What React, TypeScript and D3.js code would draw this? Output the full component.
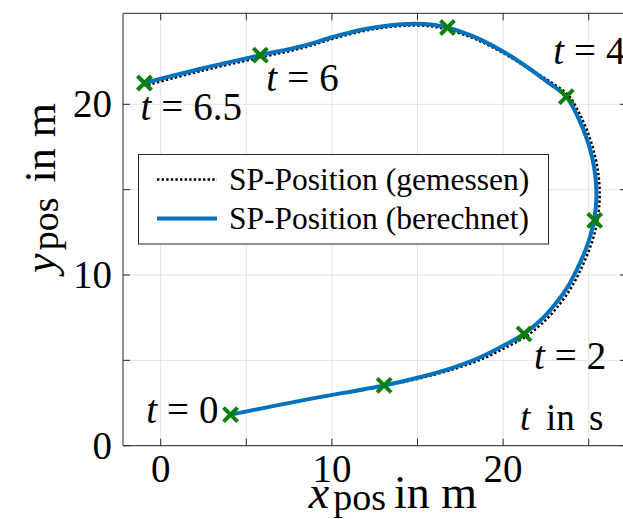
import React from 'react';
import * as d3 from 'd3';

// Computed centre-of-gravity path (x, y in m)
const calcX = [4.08, 8.5, 13.05, 15.0, 17.0, 18.6, 19.9, 21.22, 22.3, 23.13, 23.8, 24.3, 24.75, 25.1, 25.33, 25.45, 25.4, 25.2, 24.85, 24.35, 23.69, 22.6, 21.38, 19.82, 18.26, 16.75, 15.9, 14.8, 13.3, 11.8, 10.1, 8.3, 5.82, 2.4, -0.95];
const calcY = [1.82, 2.7, 3.53, 3.98, 4.55, 5.15, 5.8, 6.55, 7.45, 8.4, 9.35, 10.3, 11.3, 12.3, 13.3, 14.5, 15.7, 16.9, 18.1, 19.3, 20.45, 21.3, 22.2, 23.2, 23.98, 24.5, 24.66, 24.72, 24.62, 24.38, 23.96, 23.42, 22.88, 22.1, 21.25];

// Measured centre-of-gravity path (x, y in m)
const measX = [4.08, 8.5, 13.05, 15.02, 17.04, 18.68, 20.0, 21.35, 22.45, 23.3, 23.97, 24.48, 24.93, 25.29, 25.52, 25.64, 25.59, 25.38, 25.02, 24.5, 23.82, 22.7, 21.45, 19.86, 18.28, 16.75, 15.9, 14.8, 13.3, 11.8, 10.1, 8.3, 5.82, 2.4, -0.95];
const measY = [1.82, 2.69, 3.51, 3.92, 4.46, 5.04, 5.67, 6.41, 7.32, 8.28, 9.24, 10.2, 11.22, 12.24, 13.28, 14.5, 15.72, 16.94, 18.16, 19.38, 20.52, 21.36, 22.12, 23.08, 23.86, 24.38, 24.55, 24.62, 24.52, 24.28, 23.85, 23.3, 22.74, 21.96, 21.08];

// Positions at the sample times
const markT = [0, 1, 2, 3, 4, 5, 6, 6.5];
const markX = [4.08, 13.05, 21.22, 25.35, 23.69, 16.75, 5.82, -0.95];
const markY = [1.82, 3.53, 6.55, 13.2, 20.45, 24.5, 22.88, 21.25];

// Times that get a text label
const labelT = [0, 2, 4, 6, 6.5];

const xMajor = [0, 10, 20];
const xMinor = [5, 15, 25];
const yMajor = [0, 10, 20];
const yMinor = [5, 15];

const legendNames = ['SP-Position (gemessen)', 'SP-Position (berechnet)'];

const W = 623;
const H = 519;
const L = 123;
const R = 627;
const T = 13.3;
const B = 445.7;

const BLUE = '#0072BD';
const GREEN = '#0a800a';
const AX = '#262626';
const GRID = '#e3e3e3';
const SERIF = '"Liberation Serif", "Times New Roman", serif';

// label offsets relative to the marker, in px (dx, dy), and anchor
const labelPlacement: Record<string, [number, number, string]> = {
  '0': [-12, 8, 'end'],
  '2': [10, 35, 'start'],
  '4': [-13, -33, 'start'],
  '6': [6, 36, 'start'],
  '6.5': [-4, 37, 'start'],
};

function TLabel({ x, y, value, anchor }: { x: number; y: number; value: string; anchor: string }) {
  return (
    <text x={x} y={y} fontFamily={SERIF} fontSize={39} fill="#000" textAnchor={anchor}>
      <tspan fontStyle="italic">t</tspan>
      <tspan dx={10}>=</tspan>
      <tspan dx={10}>{value}</tspan>
    </text>
  );
}

export default function App() {
  const x = d3.scaleLinear().domain([(L - 160.7) / 17.12, (R - 160.7) / 17.12]).range([L, R]);
  const y = d3.scaleLinear().domain([0, (B - T) / 17.07]).range([B, T]);

  const line = d3
    .line<[number, number]>()
    .x((d) => x(d[0]))
    .y((d) => y(d[1]))
    .curve(d3.curveCatmullRom.alpha(0.5));

  const calcPts = calcX.map((v, i) => [v, calcY[i]] as [number, number]);
  const measPts = measX.map((v, i) => [v, measY[i]] as [number, number]);

  const xGrid = [...xMajor, ...xMinor];
  const yGrid = [...yMajor, ...yMinor];
  const tick = 7;
  const m = 7;

  return (
    <svg width={W} height={H} style={{ position: 'absolute', left: 0, top: 0, background: '#fff' }}>
      <rect x={0} y={0} width={W} height={H} fill="#fff" />
      <defs>
        <clipPath id="plot">
          <rect x={L} y={T} width={R - L} height={B - T} />
        </clipPath>
      </defs>
      {/* grid */}
      {xGrid.map((v) => (
        <line key={'gx' + v} x1={x(v)} x2={x(v)} y1={T} y2={B} stroke={GRID} strokeWidth={1} />
      ))}
      {yGrid.map((v) => (
        <line key={'gy' + v} x1={L} x2={R} y1={y(v)} y2={y(v)} stroke={GRID} strokeWidth={1} />
      ))}

      {/* paths */}
      <g clipPath="url(#plot)">
        <path d={line(measPts) || ''} fill="none" stroke="#000" strokeWidth={2.4} strokeDasharray="2.4 2.2" />
        <path d={line(calcPts) || ''} fill="none" stroke={BLUE} strokeWidth={4} strokeLinejoin="round" />
        {markT.map((t, i) => {
          const cx = x(markX[i]);
          const cy = y(markY[i]);
          return (
            <g key={'m' + t} stroke={GREEN} strokeWidth={4}>
              <line x1={cx - m} y1={cy - m} x2={cx + m} y2={cy + m} />
              <line x1={cx - m} y1={cy + m} x2={cx + m} y2={cy - m} />
            </g>
          );
        })}
      </g>

      {/* axes box and ticks */}
      <g stroke={AX} strokeWidth={1} fill="none">
        <line x1={L} x2={L} y1={T} y2={B} />
        <line x1={L} x2={R} y1={B} y2={B} />
        <line x1={L} x2={R} y1={T} y2={T} />
        <line x1={R} x2={R} y1={T} y2={B} />
        {xGrid.map((v) => (
          <g key={'tx' + v}>
            <line x1={x(v)} x2={x(v)} y1={B} y2={B - tick} />
            <line x1={x(v)} x2={x(v)} y1={T} y2={T + tick} />
          </g>
        ))}
        {yGrid.map((v) => (
          <g key={'ty' + v}>
            <line x1={L} x2={L + tick} y1={y(v)} y2={y(v)} />
            <line x1={R} x2={R - tick} y1={y(v)} y2={y(v)} />
          </g>
        ))}
      </g>

      {/* tick labels */}
      {xMajor.map((v) => (
        <text key={'lx' + v} x={x(v)} y={481.5} fontFamily={SERIF} fontSize={39} textAnchor="middle" fill="#000">
          {v}
        </text>
      ))}
      {yMajor.map((v) => (
        <text key={'ly' + v} x={112} y={y(v) + 13} fontFamily={SERIF} fontSize={39} textAnchor="end" fill="#000">
          {v}
        </text>
      ))}

      {/* axis labels */}
      <text x={393} y={508} fontFamily={SERIF} fontSize={46} textAnchor="middle" fill="#000">
        <tspan fontStyle="italic">x</tspan>
        <tspan fontSize={38} dx={4} dy={2}>pos</tspan>
        <tspan dx={8} dy={-2}>in m</tspan>
      </text>
      <text
        transform={`translate(55, 188) rotate(-90)`}
        fontFamily={SERIF}
        fontSize={44}
        textAnchor="middle"
        fill="#000"
      >
        <tspan fontStyle="italic">y</tspan>
        <tspan fontSize={38} dx={3} dy={3}>pos</tspan>
        <tspan dx={4} dy={-3}> in m</tspan>
      </text>

      {/* time labels */}
      {labelT.map((t) => {
        const i = markT.indexOf(t);
        const key = String(t);
        const [dx, dy, anchor] = labelPlacement[key];
        return <TLabel key={'tl' + key} x={x(markX[i]) + dx} y={y(markY[i]) + dy} value={key} anchor={anchor} />;
      })}

      <text y={430} fontFamily={SERIF} fontSize={37} fill="#000">
        <tspan x={520} fontStyle="italic">t</tspan>
        <tspan x={546}>in</tspan>
        <tspan x={589}>s</tspan>
      </text>

      {/* legend */}
      <rect x={138.5} y={154.5} width={410} height={89.5} fill="#fff" stroke={AX} strokeWidth={1} />
      <line x1={157} x2={217} y1={179.5} y2={179.5} stroke="#000" strokeWidth={2.4} strokeDasharray="2.4 2.2" />
      <line x1={157} x2={217} y1={218.5} y2={218.5} stroke={BLUE} strokeWidth={4} />
      <text x={229} y={190} fontFamily={SERIF} fontSize={31.5} fill="#000">
        {legendNames[0]}
      </text>
      <text x={229} y={229} fontFamily={SERIF} fontSize={31.5} fill="#000">
        {legendNames[1]}
      </text>
    </svg>
  );
}
